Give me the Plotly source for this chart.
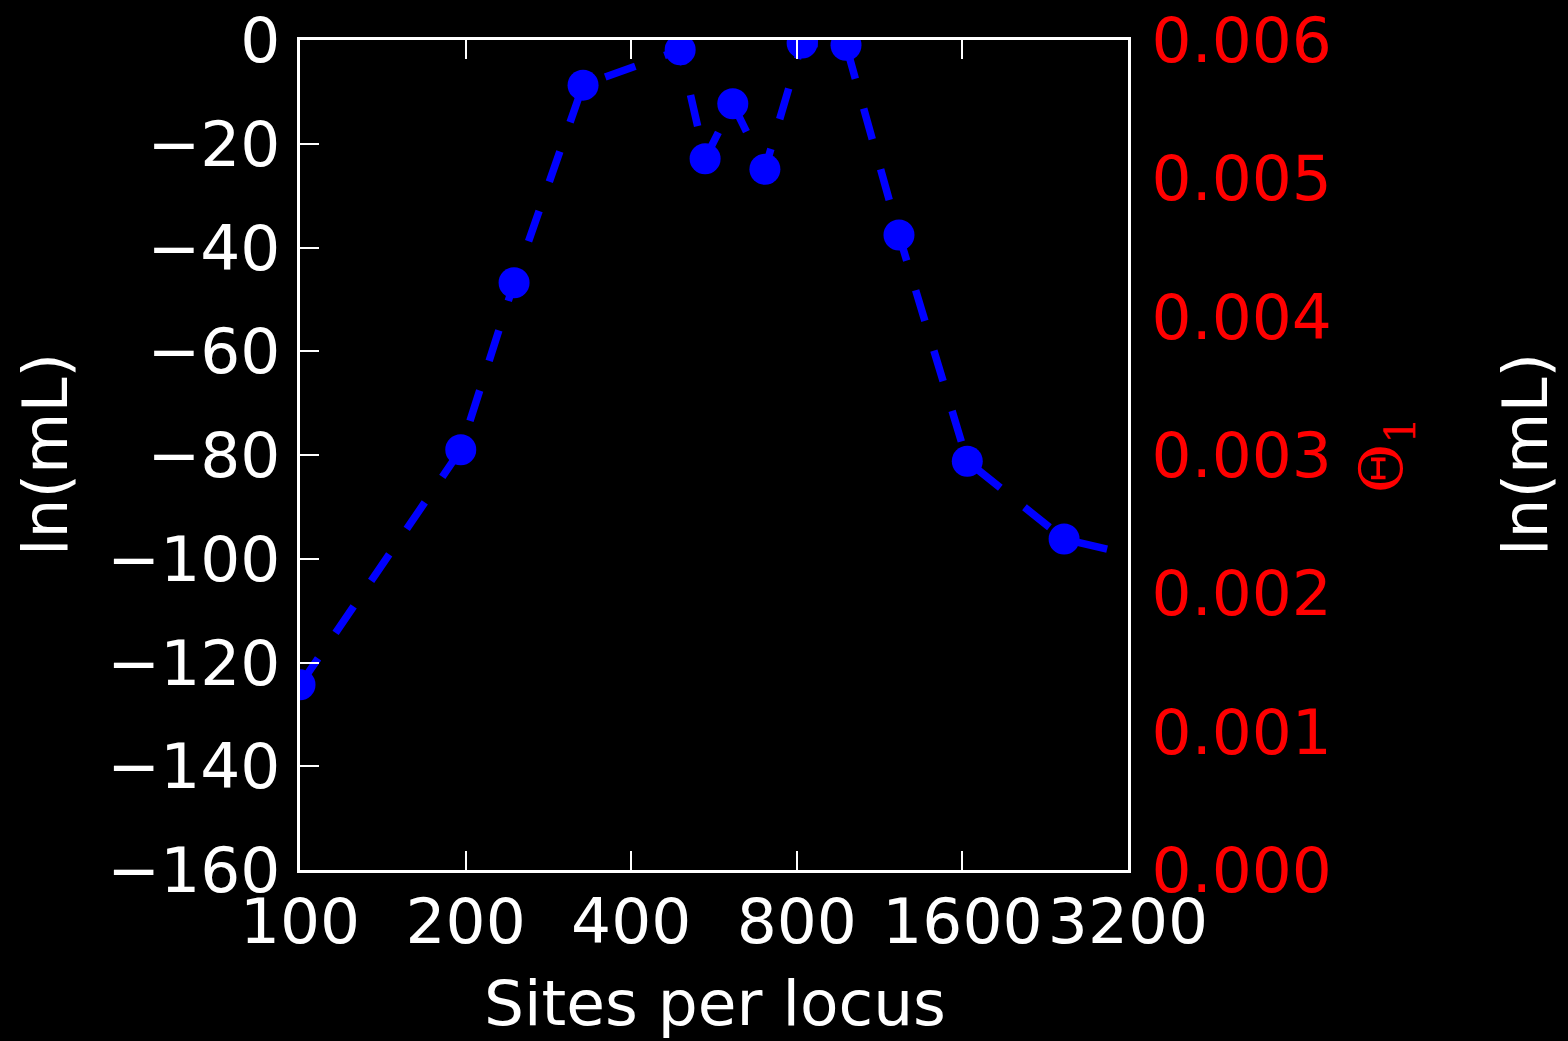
import plotly.graph_objects as go

sites = [100, 196, 245, 327, 491, 545, 612, 700, 818, 983, 1227, 1633, 2449, 4000]
ln_ml = [-124.3, -79.0, -46.8, -8.7, -1.9, -22.9, -12.3, -24.9, -0.6, -1.0, -37.6, -81.2, -96.2, -101.5]

x_ticks = [100, 200, 400, 800, 1600, 3200]
x_labels = ["100", "200", "400", "800", "1600", "3200"]
y_ticks = [0, -20, -40, -60, -80, -100, -120, -140, -160]
y_labels = ["0", "\u221220", "\u221240", "\u221260", "\u221280", "\u2212100", "\u2212120", "\u2212140", "\u2212160"]
theta_ticks = [0.000, 0.001, 0.002, 0.003, 0.004, 0.005, 0.006]
theta_labels = ["0.000", "0.001", "0.002", "0.003", "0.004", "0.005", "0.006"]

FONT = "DejaVu Sans"
FS = 63

fig = go.Figure()
fig.add_trace(go.Scatter(
    x=sites, y=ln_ml, mode="lines+markers",
    line=dict(color="#0000ff", width=7.5, dash="32px,31px"),
    marker=dict(color="#0000ff", size=31, line=dict(width=0)),
    cliponaxis=True, showlegend=False, yaxis="y"))
fig.add_trace(go.Scatter(x=[], y=[], yaxis="y2", showlegend=False))

W, H = 1568, 1041
L, R, T, B = 300, 1128, 40, 870

def px(xp):
    return (xp - L) / (R - L)

def py(yp):
    return (B - yp) / (B - T)

fig.update_layout(
    width=W, height=H, autosize=False,
    paper_bgcolor="black", plot_bgcolor="black",
    margin=dict(l=L, r=W - R, t=T, b=H - B, pad=0, autoexpand=False),
    font=dict(family=FONT, size=FS, color="white"),
    xaxis=dict(
        type="log", range=[2, 3.50515], tickvals=x_ticks, ticktext=x_labels,
        ticks="inside", ticklen=19, tickwidth=2, tickcolor="white",
        showline=True, linecolor="white", linewidth=3, mirror="ticks",
        showgrid=False, zeroline=False, automargin=False,
        tickfont=dict(family=FONT, size=FS, color="white"),
        ticklabelstandoff=-6,
    ),
    yaxis=dict(
        range=[-160, 0], tickvals=y_ticks, ticktext=y_labels,
        ticks="inside", ticklen=19, tickwidth=2, tickcolor="white",
        showline=True, linecolor="white", linewidth=3, mirror=False,
        showgrid=False, zeroline=False, automargin=False,
        tickfont=dict(family=FONT, size=FS, color="white"),
        ticklabelstandoff=4,
    ),
    yaxis2=dict(
        overlaying="y", side="right", range=[0, 0.006],
        tickvals=theta_ticks, ticktext=theta_labels,
        ticks="inside", ticklen=20, tickwidth=2, tickcolor="black",
        showline=True, linecolor="white", linewidth=3,
        showgrid=False, zeroline=False, automargin=False,
        tickfont=dict(family=FONT, size=FS, color="red"),
        ticklabelstandoff=8,
    ),
    annotations=[
        dict(text="ln(mL)", xref="paper", yref="paper", x=px(45), y=py(455),
             xanchor="center", yanchor="middle", textangle=-90, showarrow=False,
             font=dict(family=FONT, size=FS, color="white")),
        dict(text="ln(mL)", xref="paper", yref="paper", x=px(1525), y=py(455),
             xanchor="center", yanchor="middle", textangle=-90, showarrow=False,
             font=dict(family=FONT, size=FS, color="white")),
        dict(text="\u0398<sub>1</sub>", xref="paper", yref="paper", x=px(1385), y=py(455),
             xanchor="center", yanchor="middle", textangle=-90, showarrow=False,
             font=dict(family="DejaVu Serif", size=60, color="red")),
        dict(text="Sites per locus", xref="paper", yref="paper", x=px(715), y=py(1003),
             xanchor="center", yanchor="middle", showarrow=False,
             font=dict(family=FONT, size=FS, color="white")),
    ],
)

fig.write_html(
    "out.html",
    config={"displayModeBar": False},
    post_script="document.body.style.margin='0';document.body.style.padding='0';"
                "document.body.style.background='black';document.body.style.overflow='hidden';",
)
